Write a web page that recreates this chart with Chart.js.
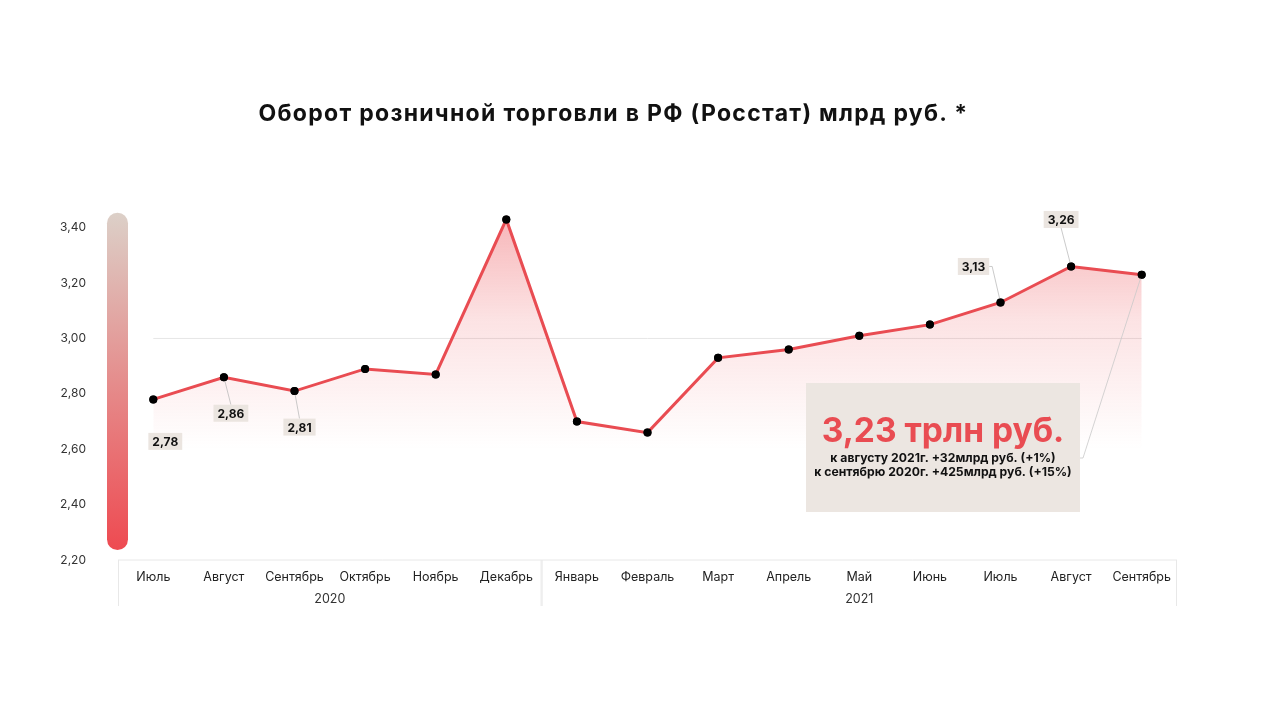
<!DOCTYPE html>
<html lang="ru">
<head>
<meta charset="utf-8">
<title>Оборот розничной торговли</title>
<script src="https://cdn.jsdelivr.net/npm/chart.js@4.4.0/dist/chart.umd.min.js"></script>
<style>
  html, body { margin: 0; padding: 0; background: #fff; }
  #wrap { position: relative; width: 1280px; height: 720px; }
  #title {
    position: absolute; left: 0; width: 1227px; top: 99px;
    text-align: center; font: 700 23px "Inter", "Open Sans", sans-serif; color: #111;
    letter-spacing: 1.3px;
  }
</style>
</head>
<body>
<div id="wrap">
  <div id="title">Оборот розничной торговли в РФ (Росстат) млрд руб. *</div>
  <canvas id="myChart" width="1280" height="720"></canvas>
</div>
<script>
// data
const months = ['Июль', 'Август', 'Сентябрь', 'Октябрь', 'Ноябрь', 'Декабрь',
  'Январь', 'Февраль', 'Март', 'Апрель', 'Май', 'Июнь', 'Июль', 'Август', 'Сентябрь'];
const years = ['2020', '2021'];
const yearSpans = [[0, 5], [6, 14]];
const turnover = [2.78, 2.86, 2.81, 2.89, 2.87, 3.43, 2.70, 2.66, 2.93, 2.96, 3.01, 3.05, 3.13, 3.26, 3.23];
const yTicks = [2.2, 2.4, 2.6, 2.8, 3.0, 3.2, 3.4];
const labelledPoints = [0, 1, 2, 12, 13];
const calloutLines = ['к августу 2021г. +32млрд руб. (+1%)', 'к сентябрю 2020г. +425млрд руб. (+15%)'];

const RED = '#e94c52';
const FONT = '"Inter", "Open Sans", sans-serif';

function fmt(v) {
  return v.toFixed(2).replace('.', ',');
}

// where each value label sits relative to its point, and where its leader goes
const labelPos = {
  0: {dx: 12, dy: 42, leader: false},
  1: {dx: 7, dy: 36, leader: true},
  2: {dx: 5, dy: 36, leader: true},
  12: {dx: -27, dy: -36, leader: true},
  13: {dx: -10, dy: -47, leader: true}
};

const decor = {
  id: 'decor',
  beforeDatasetsDraw(chart) {
    const ctx = chart.ctx;
    const x = chart.scales.x, y = chart.scales.y;
    const area = chart.chartArea;

    // gradient bar along the y axis
    let top = y.getPixelForValue(3.4) - 15, bottom = y.getPixelForValue(2.2) - 10;
    let g = ctx.createLinearGradient(0, top, 0, bottom);
    g.addColorStop(0, '#dcd0c8');
    g.addColorStop(1, '#ee4a51');
    ctx.save();
    ctx.fillStyle = g;
    ctx.beginPath();
    ctx.roundRect(area.left - 11, top, 21, bottom - top, 10.5);
    ctx.fill();

    // single gridline at 3,00
    let gy = y.getPixelForValue(3.0);
    ctx.strokeStyle = '#e6e6e6';
    ctx.lineWidth = 1;
    ctx.beginPath();
    ctx.moveTo(x.getPixelForValue(0), gy);
    ctx.lineTo(x.getPixelForValue(months.length - 1), gy);
    ctx.stroke();
    ctx.restore();
  },
  afterDatasetsDraw(chart) {
    const ctx = chart.ctx;
    const x = chart.scales.x, y = chart.scales.y;
    const area = chart.chartArea;
    const meta = chart.getDatasetMeta(0);

    ctx.save();
    // callout box for the latest value
    const last = turnover.length - 1;
    const lp = meta.data[last];
    const box = {l: area.left + 688, t: 383, w: 274, h: 129};
    ctx.strokeStyle = '#c9c9c9';
    ctx.lineWidth = 0.8;
    ctx.beginPath();
    ctx.moveTo(lp.x, lp.y);
    ctx.lineTo(box.l + box.w + 3, 458);
    ctx.lineTo(box.l + box.w, 458);
    ctx.stroke();
    ctx.fillStyle = '#ece6e1';
    ctx.fillRect(box.l, box.t, box.w, box.h);
    ctx.textAlign = 'center';
    ctx.textBaseline = 'alphabetic';
    ctx.fillStyle = RED;
    ctx.font = '700 33.5px ' + FONT;
    const cx = box.l + box.w / 2;
    ctx.fillText(fmt(turnover[last]) + ' трлн руб.', cx, 442);
    ctx.fillStyle = '#111';
    ctx.font = '700 12.2px ' + FONT;
    ctx.fillText(calloutLines[0], cx, 462);
    ctx.fillText(calloutLines[1], cx, 476);

    // value labels with leaders
    ctx.font = '700 12px ' + FONT;
    ctx.textBaseline = 'middle';
    labelledPoints.forEach(i => {
      const p = meta.data[i];
      const pos = labelPos[i];
      const bx = p.x + pos.dx, by = p.y + pos.dy;
      const w = ctx.measureText(fmt(turnover[i])).width + 8, h = 17;
      if (pos.leader) {
        ctx.strokeStyle = '#bdbdbd';
        ctx.lineWidth = 0.8;
        ctx.beginPath();
        ctx.moveTo(p.x, p.y);
        if (pos.dy > 0) ctx.lineTo(bx, by - h / 2);
        else if (Math.abs(pos.dx) > 20) { ctx.lineTo(bx + w / 2 + 3, by); ctx.lineTo(bx + w / 2, by); }
        else ctx.lineTo(bx, by + h / 2);
        ctx.stroke();
      }
      ctx.fillStyle = '#ebe5e0';
      ctx.fillRect(bx - w / 2, by - h / 2, w, h);
      ctx.fillStyle = '#111';
      ctx.fillText(fmt(turnover[i]), bx, by + 1);
    });

    // redraw points over the leaders
    ctx.fillStyle = '#000';
    meta.data.forEach(p => {
      ctx.beginPath();
      ctx.arc(p.x, p.y, 4, 0, Math.PI * 2);
      ctx.fill();
    });

    // grouped x axis frame with years
    const half = (x.getPixelForValue(1) - x.getPixelForValue(0)) / 2;
    const fb = area.bottom + 46;
    ctx.strokeStyle = '#e8e8e8';
    ctx.lineWidth = 1;
    ctx.beginPath();
    ctx.moveTo(area.left, area.bottom);
    ctx.lineTo(area.right, area.bottom);
    ctx.stroke();
    ctx.font = '400 12.5px ' + FONT;
    ctx.fillStyle = '#333';
    ctx.textBaseline = 'middle';
    yearSpans.forEach((s, k) => {
      const l = x.getPixelForValue(s[0]) - half;
      const r = x.getPixelForValue(s[1]) + half;
      ctx.beginPath();
      ctx.moveTo(l + 0.5, area.bottom);
      ctx.lineTo(l + 0.5, fb);
      ctx.moveTo(r - 0.5, area.bottom);
      ctx.lineTo(r - 0.5, fb);
      ctx.stroke();
      ctx.fillText(years[k], (l + r) / 2, area.bottom + 39);
    });
    ctx.restore();
  }
};

let ctx = document.getElementById('myChart').getContext('2d');
let myChart = new Chart(ctx, {
  type: 'line',
  data: {
    labels: months,
    datasets: [{
      data: turnover,
      borderColor: RED,
      borderWidth: 3,
      pointRadius: 4,
      pointBackgroundColor: '#000',
      pointBorderWidth: 0,
      tension: 0,
      fill: 'start',
      backgroundColor: function (context) {
        const chart = context.chart;
        if (!chart.chartArea) return 'rgba(233,76,82,0.2)';
        const y = chart.scales.y;
        const g = chart.ctx.createLinearGradient(0, y.getPixelForValue(3.45), 0, y.getPixelForValue(2.6));
        g.addColorStop(0, 'rgba(236,78,84,0.42)');
        g.addColorStop(0.45, 'rgba(236,78,84,0.16)');
        g.addColorStop(1, 'rgba(236,78,84,0)');
        return g;
      }
    }]
  },
  options: {
    responsive: false,
    animation: false,
    layout: {padding: {left: 60, right: 103, top: 200, bottom: 110}},
    plugins: {
      legend: {display: false},
      tooltip: {enabled: false}
    },
    scales: {
      x: {
        offset: true,
        grid: {display: false},
        border: {display: false},
        ticks: {color: '#222', font: {family: FONT, size: 12.5}, padding: 2, maxRotation: 0, autoSkip: false},
        afterFit: s => { s.height = 50; }
      },
      y: {
        min: 2.2,
        max: 3.5,
        grid: {display: false},
        border: {display: false},
        afterFit: s => { s.width = 58; },
        afterBuildTicks: s => { s.ticks = yTicks.map(v => ({value: v})); },
        ticks: {
          color: '#333',
          padding: 24,
          font: {family: FONT, size: 12},
          callback: v => fmt(v)
        }
      }
    }
  },
  plugins: [decor]
});
</script>
</body>
</html>
